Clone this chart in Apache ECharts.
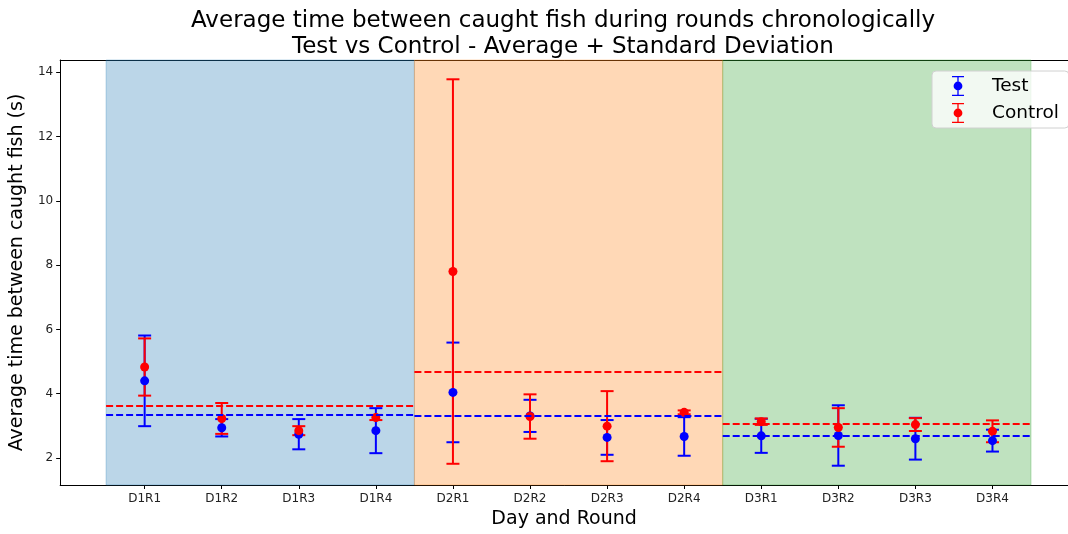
<!DOCTYPE html>
<html>
<head>
<meta charset="utf-8">
<script src="https://cdn.jsdelivr.net/npm/echarts@6/dist/echarts.min.js"></script>
<style>
html, body { margin: 0; padding: 0; background: #fff; }
#main { width: 1068px; height: 534px; }
</style>
</head>
<body>
<div id="main"></div>
<script>
// rounds on the x axis
var categories = ['D1R1', 'D1R2', 'D1R3', 'D1R4', 'D2R1', 'D2R2', 'D2R3', 'D2R4', 'D3R1', 'D3R2', 'D3R3', 'D3R4'];
// average + standard deviation per round
var testMean = [4.40, 2.94, 2.74, 2.85, 4.04, 3.31, 2.64, 2.67, 2.69, 2.70, 2.60, 2.54];
var testStd = [1.41, 0.27, 0.47, 0.70, 1.55, 0.50, 0.54, 0.60, 0.53, 0.94, 0.65, 0.34];
var controlMean = [4.83, 3.23, 2.85, 3.26, 7.80, 3.29, 2.99, 3.42, 3.13, 2.95, 3.04, 2.83];
var controlStd = [0.89, 0.48, 0.14, 0.08, 5.98, 0.69, 1.09, 0.06, 0.10, 0.60, 0.20, 0.34];
// per day average (dashed lines)
var days = ['D1', 'D2', 'D3'];
var dayStart = [-0.5, 3.5, 7.5];
var dayEnd = [3.5, 7.5, 11.5];
var testDayMean = [3.36, 3.32, 2.68];
var controlDayMean = [3.64, 4.69, 3.06];
var dayColors = ['rgba(31,119,180,0.3)', 'rgba(255,127,14,0.3)', 'rgba(44,160,44,0.3)'];
var yTicks = [2, 4, 6, 8, 10, 12, 14];

var FONT = 'DejaVu Sans';
var tickIdx = categories.map(function (c, i) { return i; });

function errData(mean, std) {
    var arr = [];
    for (var i = 0; i < mean.length; i++) {
        arr.push([i, mean[i] - std[i], mean[i] + std[i]]);
    }
    return arr;
}
function dotData(mean) {
    return mean.map(function (v, i) { return [i, v]; });
}
function dayLines(means) {
    var arr = [];
    for (var i = 0; i < means.length; i++) {
        arr.push([{ coord: [dayStart[i], means[i]] }, { coord: [dayEnd[i], means[i]] }]);
    }
    return arr;
}
function errRender(color) {
    return function (params, api) {
        var x = api.value(0);
        var top = api.coord([x, api.value(2)]);
        var bot = api.coord([x, api.value(1)]);
        var hw = 6.5;
        var st = { stroke: color, lineWidth: 2 };
        return {
            type: 'group',
            children: [
                { type: 'line', shape: { x1: top[0], y1: top[1], x2: bot[0], y2: bot[1] }, style: st },
                { type: 'line', shape: { x1: top[0] - hw, y1: top[1], x2: top[0] + hw, y2: top[1] }, style: st },
                { type: 'line', shape: { x1: bot[0] - hw, y1: bot[1], x2: bot[0] + hw, y2: bot[1] }, style: st }
            ]
        };
    };
}

var areas = [];
for (var d = 0; d < days.length; d++) {
    areas.push([{ xAxis: dayStart[d], itemStyle: { color: dayColors[d], borderColor: dayColors[d], borderWidth: 1 } }, { xAxis: dayEnd[d] }]);
}

// error bar icon for the legend
var errIcon = 'path://M0,0h12v1.3h-12z M5.35,1.3h1.3v17.4h-1.3z M0,18.7h12v1.3h-12z M1.6,10a4.4,4.4 0 1,1 8.8,0a4.4,4.4 0 1,1 -8.8,0z';

var chart = echarts.init(document.getElementById('main'));
var option = {
    animation: false,
    textStyle: { fontFamily: FONT },
    title: {
        text: 'Average time between caught fish during rounds chronologically\nTest vs Control - Average + Standard Deviation',
        left: 563,
        top: 8,
        padding: 0,
        textAlign: 'center',
        textStyle: { fontFamily: FONT, fontSize: 23, fontWeight: 'normal', color: '#000', lineHeight: 26 }
    },
    legend: {
        orient: 'vertical',
        left: 932,
        top: 71,
        padding: [5, 10, 5, 20],
        itemGap: 7,
        itemWidth: 12,
        itemHeight: 20,
        backgroundColor: 'rgba(255,255,255,0.8)',
        borderColor: '#d0d0d0',
        borderWidth: 1,
        borderRadius: 4,
        textStyle: { fontFamily: FONT, fontSize: 18.5, color: '#000', padding: [0, 0, 0, 23] },
        data: [
            { name: 'Test', icon: errIcon },
            { name: 'Control', icon: errIcon }
        ]
    },
    grid: { left: 59, top: 60, width: 1009, height: 425, containLabel: false },
    xAxis: [{
        type: 'value',
        min: -1.096,
        max: 11.98,
        splitLine: { show: false },
        axisLine: { onZero: false, lineStyle: { color: '#000', width: 1 } },
        axisTick: { show: true, length: 4, lineStyle: { color: '#000' }, customValues: tickIdx },
        axisLabel: {
            customValues: tickIdx,
            margin: 8,
            fontFamily: FONT, fontSize: 12, color: '#222',
            formatter: function (v) { return categories[Math.round(v)]; }
        },
        name: 'Day and Round',
        nameLocation: 'middle',
        nameGap: 23,
        nameTextStyle: { fontFamily: FONT, fontSize: 19, color: '#000' }
    }, {
        type: 'value',
        position: 'top',
        min: -1.096,
        max: 11.98,
        splitLine: { show: false },
        axisLine: { onZero: false, lineStyle: { color: '#000', width: 1 } },
        axisTick: { show: false },
        axisLabel: { show: false }
    }],
    yAxis: {
        type: 'value',
        min: 1.16,
        max: 14.38,
        splitLine: { show: false },
        axisLine: { show: true, onZero: false, lineStyle: { color: '#000', width: 1 } },
        axisTick: { show: true, length: 4, lineStyle: { color: '#000' }, customValues: yTicks },
        axisLabel: { customValues: yTicks, margin: 7, fontFamily: FONT, fontSize: 12, color: '#222' },
        name: 'Average time between caught fish (s)',
        nameLocation: 'middle',
        nameGap: 33,
        nameTextStyle: { fontFamily: FONT, fontSize: 19, color: '#000' }
    },
    series: [
        {
            name: 'days',
            type: 'line',
            data: [],
            silent: true,
            z: 1,
            markArea: { silent: true, data: areas }
        },
        {
            name: 'Test',
            type: 'custom',
            renderItem: errRender('#0000ff'),
            itemStyle: { color: '#0000ff' },
            encode: { x: 0, y: [1, 2] },
            data: errData(testMean, testStd),
            z: 3
        },
        {
            name: 'Control',
            type: 'custom',
            renderItem: errRender('#ff0000'),
            itemStyle: { color: '#ff0000' },
            encode: { x: 0, y: [1, 2] },
            data: errData(controlMean, controlStd),
            z: 3
        },
        {
            name: 'Test',
            type: 'scatter',
            symbolSize: 9,
            itemStyle: { color: '#0000ff', opacity: 1 },
            data: dotData(testMean),
            z: 4
        },
        {
            name: 'Control',
            type: 'scatter',
            symbolSize: 9,
            itemStyle: { color: '#ff0000', opacity: 1 },
            data: dotData(controlMean),
            z: 4
        },
        {
            name: 'testDay',
            type: 'line',
            data: [],
            z: 5,
            markLine: {
                silent: true,
                symbol: 'none',
                label: { show: false },
                lineStyle: { color: '#0000ff', type: [7, 3], width: 1.8 },
                data: dayLines(testDayMean)
            }
        },
        {
            name: 'controlDay',
            type: 'line',
            data: [],
            z: 5,
            markLine: {
                silent: true,
                symbol: 'none',
                label: { show: false },
                lineStyle: { color: '#ff0000', type: [7, 3], width: 1.8 },
                data: dayLines(controlDayMean)
            }
        }
    ]
};
chart.setOption(option);
</script>
</body>
</html>
